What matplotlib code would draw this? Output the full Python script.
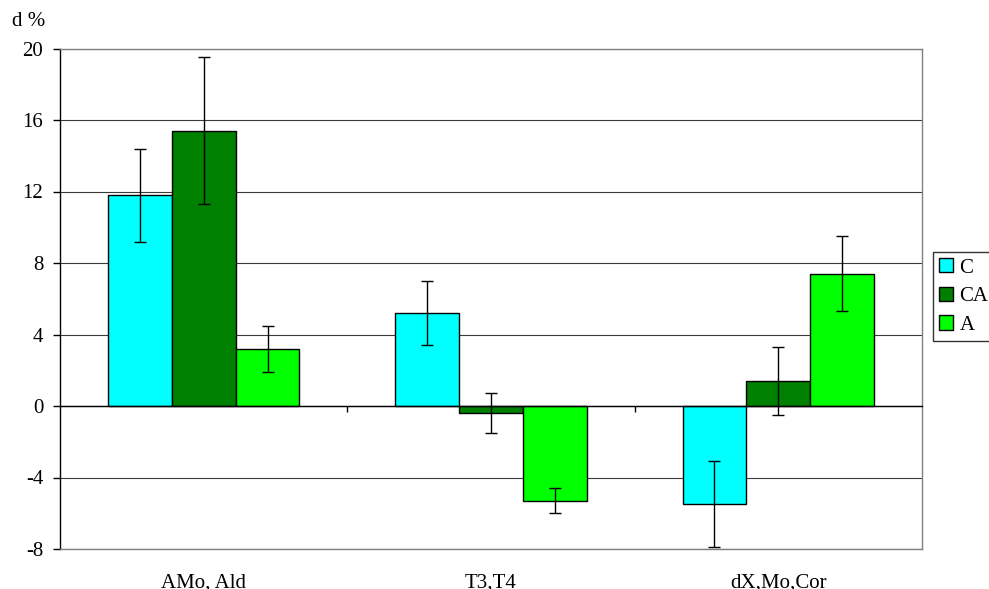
import matplotlib
matplotlib.use("Agg")
import matplotlib.pyplot as plt
import numpy as np

plt.rcParams['font.family'] = ['Liberation Serif', 'DejaVu Serif']

categories = ["AMo, Ald", "T3,T4", "dX,Mo,Cor"]
series_names = ["C", "CA", "A"]
values_C = [11.8, 5.2, -5.5]
values_CA = [15.4, -0.4, 1.4]
values_A = [3.2, -5.3, 7.4]
errors_C = [2.6, 1.8, 2.4]
errors_CA = [4.1, 1.1, 1.9]
errors_A = [1.3, 0.7, 2.1]
colors = ["#00FFFF", "#008000", "#00FF00"]
yticks = [-8, -4, 0, 4, 8, 12, 16, 20]

FS = 15

fig = plt.figure(figsize=(9.89, 5.89), dpi=100)
ax = fig.add_axes([60/989, 1-549/589, (922-60)/989, (549-48.5)/589])

x = np.arange(len(categories))
width = 1/4.5
all_vals = [values_C, values_CA, values_A]
all_errs = [errors_C, errors_CA, errors_A]
for i, (vals, errs, col, name) in enumerate(zip(all_vals, all_errs, colors, series_names)):
    pos = x + (i - 1) * width
    ax.bar(pos, vals, width=width, color=col, edgecolor="black", linewidth=1.0,
           label=name, zorder=3)
    ax.errorbar(pos, vals, yerr=errs, fmt="none", ecolor="black", elinewidth=1.0,
                capsize=4, capthick=1.0, zorder=4)

ax.set_xlim(-0.5, 2.5)
ax.set_ylim(-8, 20)
ax.set_yticks(yticks)
ax.set_yticklabels([str(t) for t in yticks], fontsize=FS)
ax.yaxis.grid(True, color="#3a3a3a", linewidth=0.8, zorder=0)
ax.set_axisbelow(True)

ax.set_xticks(x)
ax.set_xticklabels(categories, fontsize=FS)
ax.tick_params(axis="x", length=0, pad=17.5)
ax.tick_params(axis="y", length=5, width=1, direction="out", pad=7)

for s in ["top", "right", "bottom"]:
    ax.spines[s].set_color("#808080")
    ax.spines[s].set_linewidth(1.0)
ax.spines["left"].set_color("black")
ax.spines["left"].set_linewidth(1.0)

# category axis crossing at zero, with ticks between groups
ax2 = ax.twiny()
ax2.set_xlim(ax.get_xlim())
ax2.spines["bottom"].set_position(("data", 0))
ax2.spines["bottom"].set_color("black")
ax2.spines["bottom"].set_linewidth(1.0)
ax2.spines["bottom"].set_zorder(5)
for s in ["top", "right", "left"]:
    ax2.spines[s].set_visible(False)
ax2.xaxis.set_ticks_position("bottom")
ax2.set_xticks([0.5, 1.5])
ax2.set_xticklabels([])
ax2.tick_params(axis="x", length=4, width=1, direction="out", color="black")

fig.text(12/989, 1-21.5/589, "d %", fontsize=FS, ha="left", va="center")

leg = ax.legend(loc="upper left", bbox_to_anchor=(933/989, 1-252/589),
                bbox_transform=fig.transFigure, fontsize=FS, frameon=True,
                fancybox=False, edgecolor="black", handlelength=0.67,
                handleheight=0.67, handletextpad=0.3, labelspacing=0.44,
                borderpad=0.3, borderaxespad=0)
leg.get_frame().set_linewidth(1.0)

fig.savefig("out.png", dpi=100)
